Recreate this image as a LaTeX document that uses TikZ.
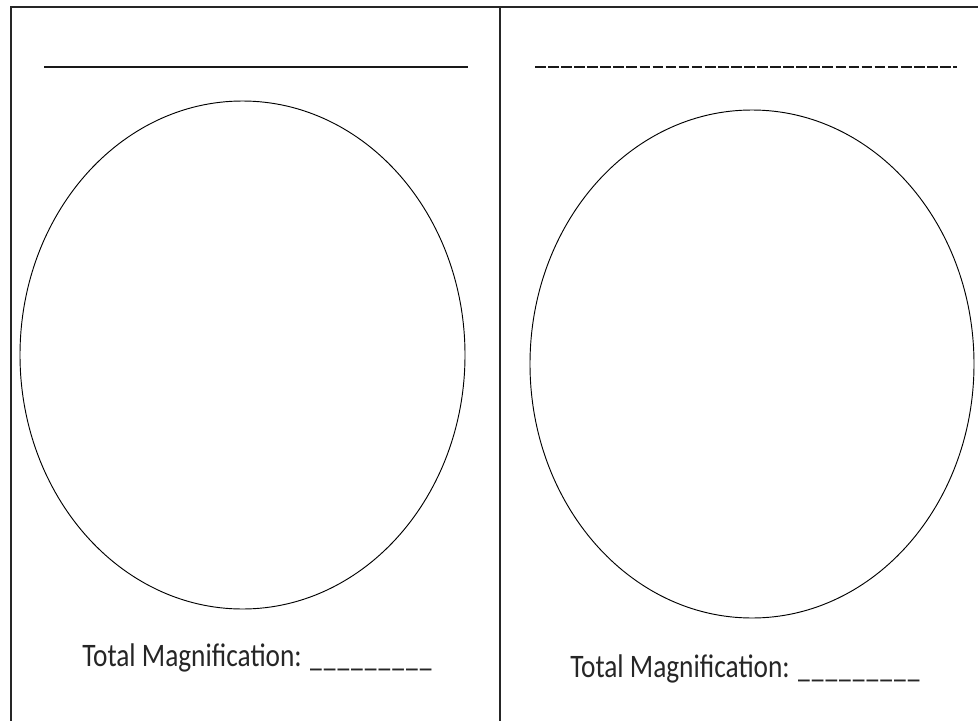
\documentclass[tikz,border=0pt]{standalone}
\usepackage{fontspec}
\setmainfont{Carlito}
\usepackage{tikz}
\usepackage{xcolor}

% one blank of the answer line
\newcommand{\blankbit}{\scalebox{0.86}[1]{\_}\kern1.5pt}

\tikzset{
  frameline/.style={line width=1.5pt, black!85},
  fieldline/.style={line width=1.3pt, black!90},
  viewfield/.style={line width=0.7pt, black},
  maglabel/.style={anchor=base west, inner sep=0pt, font=\fontsize{20.5}{24}\selectfont, black!85}
}

\begin{document}
\begin{tikzpicture}[x=0.75pt, y=-0.75pt]
				\useasboundingbox (0,0) rectangle (978,721);
				
				% Frame and divider
				\draw[frameline] (11,721) -- (11,7) -- (978,7);
				\draw[frameline] (500,7) -- (500,721);
				
				% Left panel
				\draw[fieldline] (44,67) -- (468,67);
				\draw[viewfield] (242.5,355) ellipse [x radius=222.5, y radius=254];
				\node[maglabel] (magleft) at (82,666) {\scalebox{1}[1.2]{Total Magnification: \blankbit\blankbit\blankbit\blankbit\blankbit\blankbit\blankbit\blankbit\blankbit}};
				
				% Right panel
				\draw[fieldline, dash pattern=on 8pt off 1.8pt] (535,67) -- (957,67);
				\draw[viewfield] (752,364) ellipse [x radius=222, y radius=254];
				\node[maglabel] (magright) at (570,677) {\scalebox{1}[1.2]{Total Magnification: \blankbit\blankbit\blankbit\blankbit\blankbit\blankbit\blankbit\blankbit\blankbit}};
			\end{tikzpicture}
\end{document}
